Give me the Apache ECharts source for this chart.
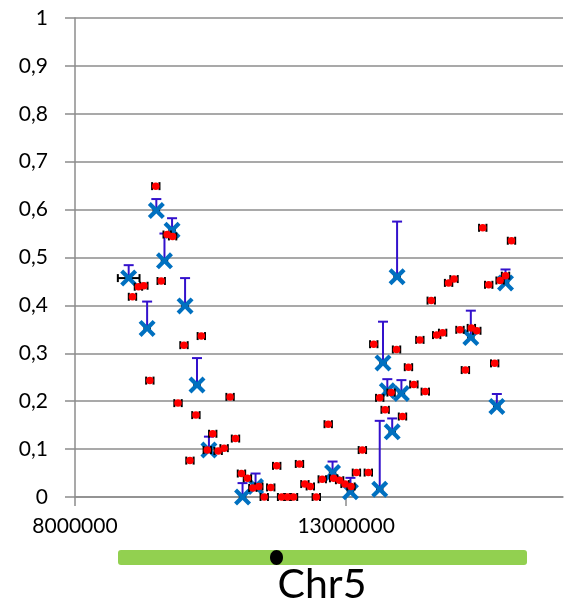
<!DOCTYPE html>
<html>
<head>
<meta charset="utf-8">
<script src="https://cdn.jsdelivr.net/npm/echarts@6/dist/echarts.min.js"></script>
<style>
  html, body { margin: 0; padding: 0; background: #fff; }
  #chart { width: 568px; height: 613px; }
</style>
</head>
<body>
<div id="chart"></div>
<script>
// Marker positions along the chromosome (bp) and measured fractions
const redPos = [
  9060000, 9170000, 9270000, 9380000, 9490000, 9590000, 9700000, 9800000, 9900000, 10010000,
  10120000, 10230000, 10330000, 10440000, 10540000, 10640000, 10750000, 10860000, 10960000, 11070000,
  11180000, 11280000, 11390000, 11490000, 11610000, 11720000, 11810000, 11920000, 12030000, 12140000,
  12240000, 12340000, 12450000, 12560000, 12670000, 12770000, 12880000, 12980000, 13090000, 13190000,
  13300000, 13410000, 13510000, 13620000, 13720000, 13830000, 13930000, 14040000, 14150000, 14250000,
  14360000, 14460000, 14570000, 14670000, 14780000, 14890000, 14990000, 15100000, 15200000, 15310000,
  15410000, 15520000, 15630000, 15740000, 15840000, 15940000, 16050000
];
const redVal = [
  0.418, 0.439, 0.441, 0.243, 0.649, 0.451, 0.548, 0.544, 0.196, 0.317,
  0.076, 0.171, 0.336, 0.098, 0.132, 0.096, 0.102, 0.209, 0.122, 0.049,
  0.039, 0.019, 0.022, 0.000, 0.020, 0.065, 0.000, 0.000, 0.000, 0.069,
  0.027, 0.022, 0.000, 0.037, 0.152, 0.039, 0.035, 0.027, 0.022, 0.051,
  0.098, 0.051, 0.319, 0.207, 0.182, 0.218, 0.308, 0.168, 0.271, 0.235,
  0.328, 0.220, 0.410, 0.338, 0.343, 0.447, 0.455, 0.349, 0.265, 0.353,
  0.347, 0.562, 0.443, 0.279, 0.452, 0.462, 0.535
];
// half-width of the positional interval around each marker (bp)
const redPosErr = 68000;

// Pooled estimates with upper error and positional interval
const bluePos = [
  8990000, 9330000, 9500000, 9650000, 9790000, 10030000, 10250000, 10470000, 11090000, 11330000,
  12750000, 13080000, 13620000, 13680000, 13760000, 13850000, 13940000, 14020000, 15300000, 15780000,
  15940000
];
const blueVal = [
  0.457, 0.352, 0.598, 0.493, 0.557, 0.399, 0.234, 0.098, 0.000, 0.022,
  0.051, 0.011, 0.016, 0.280, 0.222, 0.136, 0.460, 0.216, 0.333, 0.189,
  0.447
];
const blueErrUp = [
  0.027, 0.056, 0.024, 0.057, 0.025, 0.058, 0.056, 0.028, 0.029, 0.027,
  0.023, 0.029, 0.143, 0.086, 0.024, 0.028, 0.115, 0.028, 0.056, 0.026,
  0.028
];
const bluePosErr = [
  200000, 50000, 50000, 50000, 50000, 50000, 50000, 50000, 50000, 50000,
  50000, 50000, 50000, 50000, 50000, 50000, 50000, 50000, 50000, 50000,
  50000
];

const xTicks = [8000000, 13000000];
const yTicks = [0, 0.1, 0.2, 0.3, 0.4, 0.5, 0.6, 0.7, 0.8, 0.9, 1];

const FONT = 'Lato';
const GRID_COLOR = '#8c8c8c';
const ERR_BLUE = '#3311cc';
const X_BLUE = '#0070c0';

const redData = redPos.map((p, i) => [p, redVal[i], redPosErr]);
const blueData = bluePos.map((p, i) => [p, blueVal[i], blueErrUp[i], bluePosErr[i]]);

// horizontal interval bars with end caps
function hBar(color, errIdx) {
  return function (params, api) {
    const x = api.value(0), y = api.value(1), e = api.value(errIdx);
    const l = api.coord([x - e, y]);
    const r = api.coord([x + e, y]);
    const h = 4;
    const st = { stroke: color, lineWidth: 2 };
    return {
      type: 'group',
      children: [
        { type: 'line', shape: { x1: l[0], y1: l[1], x2: r[0], y2: r[1] }, style: st },
        { type: 'line', shape: { x1: l[0], y1: l[1] - h, x2: l[0], y2: l[1] + h }, style: st },
        { type: 'line', shape: { x1: r[0], y1: r[1] - h, x2: r[0], y2: r[1] + h }, style: st }
      ]
    };
  };
}

// upward error bar with a top cap
function vBarUp(params, api) {
  const x = api.value(0), y = api.value(1), e = api.value(2);
  const b = api.coord([x, y]);
  const t = api.coord([x, y + e]);
  const w = 5;
  const st = { stroke: ERR_BLUE, lineWidth: 2 };
  return {
    type: 'group',
    children: [
      { type: 'line', shape: { x1: b[0], y1: b[1], x2: t[0], y2: t[1] }, style: st },
      { type: 'line', shape: { x1: t[0] - w, y1: t[1], x2: t[0] + w, y2: t[1] }, style: st }
    ]
  };
}

const xSymbol = 'path://M3.5,0 L10,6.5 L16.5,0 L20,3.5 L13.5,10 L20,16.5 L16.5,20 L10,13.5 L3.5,20 L0,16.5 L6.5,10 L0,3.5 Z';

const chart = echarts.init(document.getElementById('chart'), null, { renderer: 'canvas' });

chart.setOption({
  animation: false,
  backgroundColor: '#ffffff',
  grid: { left: 75, right: 5, top: 18, bottom: 116, containLabel: false },
  xAxis: {
    type: 'value',
    min: 8000000,
    max: 17000000,
    interval: 5000000,
    splitLine: { show: false },
    axisLine: { show: true, lineStyle: { color: GRID_COLOR, width: 1.5 } },
    axisTick: { show: true, inside: false, length: 9, customValues: xTicks, lineStyle: { color: GRID_COLOR, width: 1.5 } },
    axisLabel: {
      customValues: xTicks,
      margin: 19,
      color: '#000',
      fontFamily: FONT,
      fontSize: 21,
      formatter: v => String(v)
    }
  },
  yAxis: {
    type: 'value',
    min: 0,
    max: 1,
    interval: 0.1,
    splitLine: { show: true, lineStyle: { color: GRID_COLOR, width: 1.5 } },
    axisLine: { show: true, lineStyle: { color: GRID_COLOR, width: 1.5 } },
    axisTick: { show: true, inside: false, length: 10, lineStyle: { color: GRID_COLOR, width: 1.5 } },
    axisLabel: {
      margin: 27,
      color: '#000',
      fontFamily: FONT,
      fontSize: 21,
      formatter: v => {
        const t = yTicks.find(k => Math.abs(k - v) < 1e-9);
        return String(t !== undefined ? Number(t.toFixed(1)) : v).replace('.', ',');
      }
    }
  },
  series: [
    {
      name: 'blueVErr',
      type: 'custom',
      renderItem: vBarUp,
      data: blueData,
      encode: { x: 0, y: 1 },
      z: 2,
      silent: true,
      clip: false
    },
    {
      name: 'blueHErr',
      type: 'custom',
      renderItem: hBar('#000', 3),
      data: blueData,
      encode: { x: 0, y: 1 },
      z: 2,
      silent: true,
      clip: false
    },
    {
      name: 'pooled',
      type: 'scatter',
      data: blueData.map(d => [d[0], d[1]]),
      symbol: xSymbol,
      symbolSize: 17,
      itemStyle: { color: X_BLUE, opacity: 1 },
      z: 3,
      silent: true,
      clip: false
    },
    {
      name: 'redHErr',
      type: 'custom',
      renderItem: hBar('#000', 2),
      data: redData,
      encode: { x: 0, y: 1 },
      z: 4,
      silent: true,
      clip: false
    },
    {
      name: 'markers',
      type: 'scatter',
      data: redData.map(d => [d[0], d[1]]),
      symbol: 'circle',
      symbolSize: 7.5,
      itemStyle: { color: '#ff0000', opacity: 1 },
      z: 5,
      silent: true,
      clip: false
    }
  ],
  graphic: [
    {
      type: 'rect',
      shape: { x: 118, y: 550, width: 409, height: 15, r: 3 },
      style: { fill: '#92d050' },
      z: 10
    },
    {
      type: 'ellipse',
      shape: { cx: 276.5, cy: 557.5, rx: 6.5, ry: 7.5 },
      style: { fill: '#000' },
      z: 11
    },
    {
      type: 'text',
      style: {
        text: 'Chr5',
        x: 322,
        y: 585,
        align: 'center',
        verticalAlign: 'middle',
        fontFamily: FONT,
        fontSize: 41,
        fill: '#000'
      },
      z: 11
    }
  ]
});
</script>
</body>
</html>
